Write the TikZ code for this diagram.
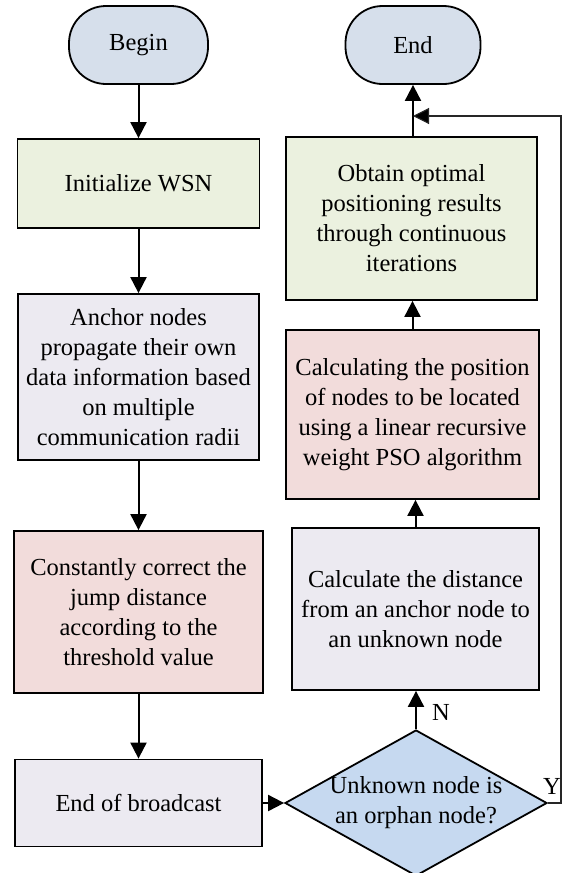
\documentclass[tikz,border=0pt]{standalone}
\usepackage{fontspec}
\setmainfont{Liberation Serif}
\usetikzlibrary{shapes.geometric,arrows.meta}
\definecolor{termfill}{HTML}{D6DFEB}
\definecolor{greenfill}{HTML}{EBF1DF}
\definecolor{lavfill}{HTML}{ECEAF1}
\definecolor{pinkfill}{HTML}{F2DCDB}
\definecolor{diafill}{HTML}{C6D9F0}
\begin{document}
\begin{tikzpicture}[x=1pt,y=1pt,
  every node/.style={font=\fontsize{24.5}{30}\selectfont},
  box/.style={draw, line width=1.8pt, rectangle, align=center, inner sep=0pt},
  term/.style={box, fill=termfill, rounded corners=37pt},
  greenbox/.style={box, fill=greenfill},
  lavbox/.style={box, fill=lavfill},
  pinkbox/.style={box, fill=pinkfill},
  arr/.style={line width=2pt, -{Triangle[width=16pt,length=16pt]}},
  yline/.style={line width=1.1pt, draw=black!85, -{Triangle[width=16pt,length=16pt,fill=black]}}]
\useasboundingbox (0,0) rectangle (562,-873);
% left column
\node[term, minimum width=139, minimum height=78] (begin) at (138.5,-45) {Begin};
\node[greenbox, minimum width=242, minimum height=89] (init) at (138.5,-183.5) {Initialize WSN};
\node[lavbox, minimum width=241, minimum height=166] (anchor) at (138.5,-377)
  {Anchor nodes\\ propagate their own\\ data information based\\ on multiple\\ communication radii};
\node[pinkbox, minimum width=249, minimum height=162] (correct) at (138.5,-612)
  {Constantly correct the\\ jump distance\\ according to the\\ threshold value};
\node[lavbox, minimum width=247, minimum height=87] (eob) at (138.5,-803) {End of broadcast};
% right column
\node[term, minimum width=135, minimum height=78] (end) at (413,-45) {End};
\node[greenbox, minimum width=251, minimum height=163] (obtain) at (411.5,-218.5)
  {Obtain optimal\\ positioning results\\ through continuous\\ iterations};
\node[pinkbox, minimum width=253, minimum height=169] (calcpos) at (412.5,-414.5)
  {Calculating the position\\ of nodes to be located\\ using a linear recursive\\ weight PSO algorithm};
\node[lavbox, minimum width=247, minimum height=162] (dist) at (415.5,-609)
  {Calculate the distance\\ from an anchor node to\\ an unknown node};
\node[draw, diamond, fill=diafill, line width=1.8pt, inner sep=0pt,
  minimum width=262, minimum height=146] (dia) at (416,-803) {};
\node[align=center, inner sep=0pt] (diatext) at (dia.center) {Unknown node is\\ an orphan node?};
% labels
\node[inner sep=0pt] (nlab) at (441,-712) {N};
\node[inner sep=0pt] (ylab) at (552,-786) {Y};
% connectors
\draw[arr] (begin.south) -- (begin.south |- init.north);
\draw[arr] (init.south) -- (init.south |- anchor.north);
\draw[arr] (anchor.south) -- (anchor.south |- correct.north);
\draw[arr] (correct.south) -- (correct.south |- eob.north);
\draw[arr] (eob.east) -- (dia.west);
\draw[arr] (dia.north) -- (dia.north |- dist.south);
\draw[arr] (dist.north) -- (dist.north |- calcpos.south);
\draw[arr] (calcpos.north) -- (calcpos.north |- obtain.south);
\draw[arr] (end.south |- obtain.north) -- (end.south);
\coordinate (yr) at (561,-803);
\coordinate (yt) at (561,-116);
\draw[yline] (dia.east) -- (yr) -- (yt) -- (yt -| end.south);
\end{tikzpicture}
\end{document}
